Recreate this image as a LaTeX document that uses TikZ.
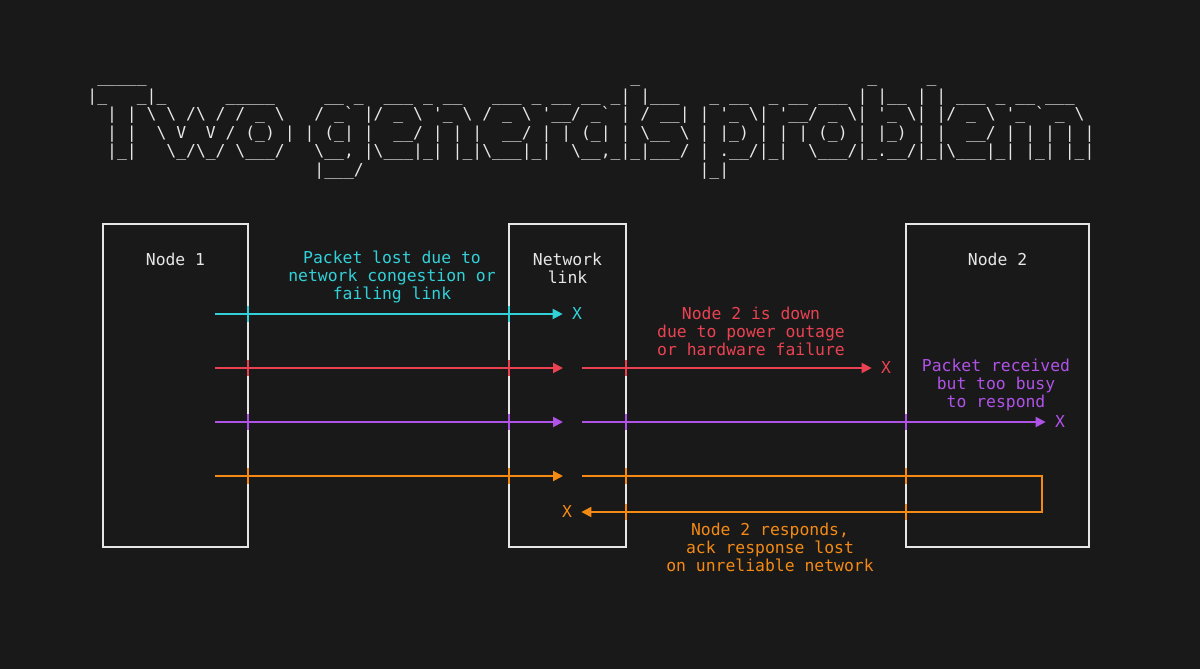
\documentclass[tikz,border=0pt]{standalone}
\usepackage{fontspec}
\setmonofont{DejaVu Sans Mono}
\usetikzlibrary{arrows.meta}
\definecolor{termbg}{RGB}{25,25,25}
\definecolor{termfg}{RGB}{230,230,230}
\definecolor{lostcyan}{RGB}{50,208,216}
\definecolor{downred}{RGB}{234,66,82}
\definecolor{busypurple}{RGB}{176,82,232}
\definecolor{ackorange}{RGB}{244,138,20}
\newcommand{\padcells}[1]{\hspace*{#1\fontcharwd\font`\_}}
% banner rows, typed with their spaces
\begingroup
\catcode`\_=12
\catcode`\!=0
\catcode`\\=12
!catcode`! =13!relax%
!gdef {! }%
!gdef!titlea{ _____!padcells{49}_!padcells{23}_     _}%
!gdef!titleb{|_   _|_      _____     __ _  ___ _ __   ___ _ __ __ _| |___   _ __  _ __ ___ | |__ | | ___ _ __ ___}%
!gdef!titlec{  | | \ \ /\ / / _ \   / _` |/ _ \ '_ \ / _ \ '__/ _` | / __| | '_ \| '__/ _ \| '_ \| |/ _ \ '_ ` _ \}%
!gdef!titled{  | |  \ V  V / (_) | | (_| |  __/ | | |  __/ | | (_| | \__ \ | |_) | | | (_) | |_) | |  __/ | | | | |}%
!gdef!titlee{  |_|   \_/\_/ \___/   \__, |\___|_| |_|\___|_|  \__,_|_|___/ | .__/|_|  \___/|_.__/|_|\___|_| |_| |_|}%
!gdef!titlef{!padcells{23}|___/!padcells{34}|_|}%
!endgroup
\tikzset{
  hostbox/.style  = {draw=termfg,line width=1pt,inner sep=0pt,outer sep=0pt,
                     minimum width=#1,minimum height=161.5pt},
  boxname/.style  = {text=termfg,font=\ttfamily\fontsize{8.2}{9}\selectfont,
                     align=center,inner sep=0pt},
  note/.style     = {font=\ttfamily\fontsize{8.2}{9}\selectfont,
                     align=center,inner sep=0pt},
  xmark/.style    = {font=\ttfamily\fontsize{8.2}{9}\selectfont,inner sep=0pt},
  titlerow/.style = {text=termfg,font=\ttfamily\fontsize{8.2}{9.2}\selectfont,
                     inner sep=0pt,anchor=base west},
  flow/.style     = {line width=1pt,-{Triangle[length=5pt,width=5pt]}},
  lost/.style     = {flow,shorten >=4.5pt},
  crossing/.style = {line width=1pt},
}
\begin{document}
\begin{tikzpicture}[x=0.5pt,y=-0.5pt]
  \useasboundingbox (0,0) rectangle (1200,669);
  \fill[termbg] (0,0) rectangle (1200,669);
  \foreach \row/\suffix in {0/a,1/b,2/c,3/d,4/e,5/f}
    \node[titlerow] (title\suffix) at (87,83+18.4*\row) {\csname title\suffix\endcsname};
  \node[hostbox=72.5pt] (node1) at (175.5,385.5) {};
  \node[hostbox=58.5pt] (link)  at (567.5,385.5) {};
  \node[hostbox=91.5pt] (node2) at (997.5,385.5) {};
  \node[boxname] (node1name) at (175.5,259) {Node 1};
  \node[boxname] (linkname)  at (567.5,268) {Network\\link};
  \node[boxname] (node2name) at (997.5,259) {Node 2};
  % lost on the link
  \coordinate (cyanfrom) at (215,314);
  \node[xmark,lostcyan] (cyanx) at (577,314) {X};
  \node[note,lostcyan] (cyannote) at (392,277)
        {Packet lost due to\\network congestion or\\failing link};
  \draw[lost,lostcyan] (cyanfrom) -- (cyanx);
  % node 2 down
  \coordinate (redfrom) at (215,368);
  \coordinate (redin)   at (563,368);
  \coordinate (redon)   at (582,368);
  \node[xmark,downred] (redx) at (886,368) {X};
  \node[note,downred] (rednote) at (751,331)
        {Node 2 is down\\due to power outage\\or hardware failure};
  \draw[flow,downred] (redfrom) -- (redin);
  \draw[lost,downred] (redon) -- (redx);
  % node 2 busy
  \coordinate (purplefrom) at (215,422);
  \coordinate (purplein)   at (563,422);
  \coordinate (purpleon)   at (582,422);
  \node[xmark,busypurple] (purplex) at (1060,422) {X};
  \node[note,busypurple] (purplenote) at (996,385)
        {Packet received\\but too busy\\to respond};
  \draw[flow,busypurple] (purplefrom) -- (purplein);
  \draw[lost,busypurple] (purpleon) -- (purplex);
  % ack lost
  \coordinate (orangefrom) at (215,476);
  \coordinate (orangein)   at (563,476);
  \coordinate (orangeon)   at (582,476);
  \coordinate (orangeturn) at (1042,476);
  \node[xmark,ackorange] (orangex) at (567,512) {X};
  \node[note,ackorange] (orangenote) at (770,547)
        {Node 2 responds,\\ack response lost\\on unreliable network};
  \draw[flow,ackorange] (orangefrom) -- (orangein);
  \draw[lost,ackorange] (orangeon) -- (orangeturn) |- (orangex);
  \foreach \edge/\y/\col in {node1.east/314/lostcyan, link.west/314/lostcyan,
      node1.east/368/downred, link.west/368/downred, link.east/368/downred,
      node1.east/422/busypurple, link.west/422/busypurple,
      link.east/422/busypurple, node2.west/422/busypurple,
      node1.east/476/ackorange, link.west/476/ackorange,
      link.east/476/ackorange, node2.west/476/ackorange,
      link.east/512/ackorange, node2.west/512/ackorange}
    \draw[crossing,\col] (\edge |- 0,\y) ++(0,-8) -- ++(0,16);
\end{tikzpicture}
\end{document}
